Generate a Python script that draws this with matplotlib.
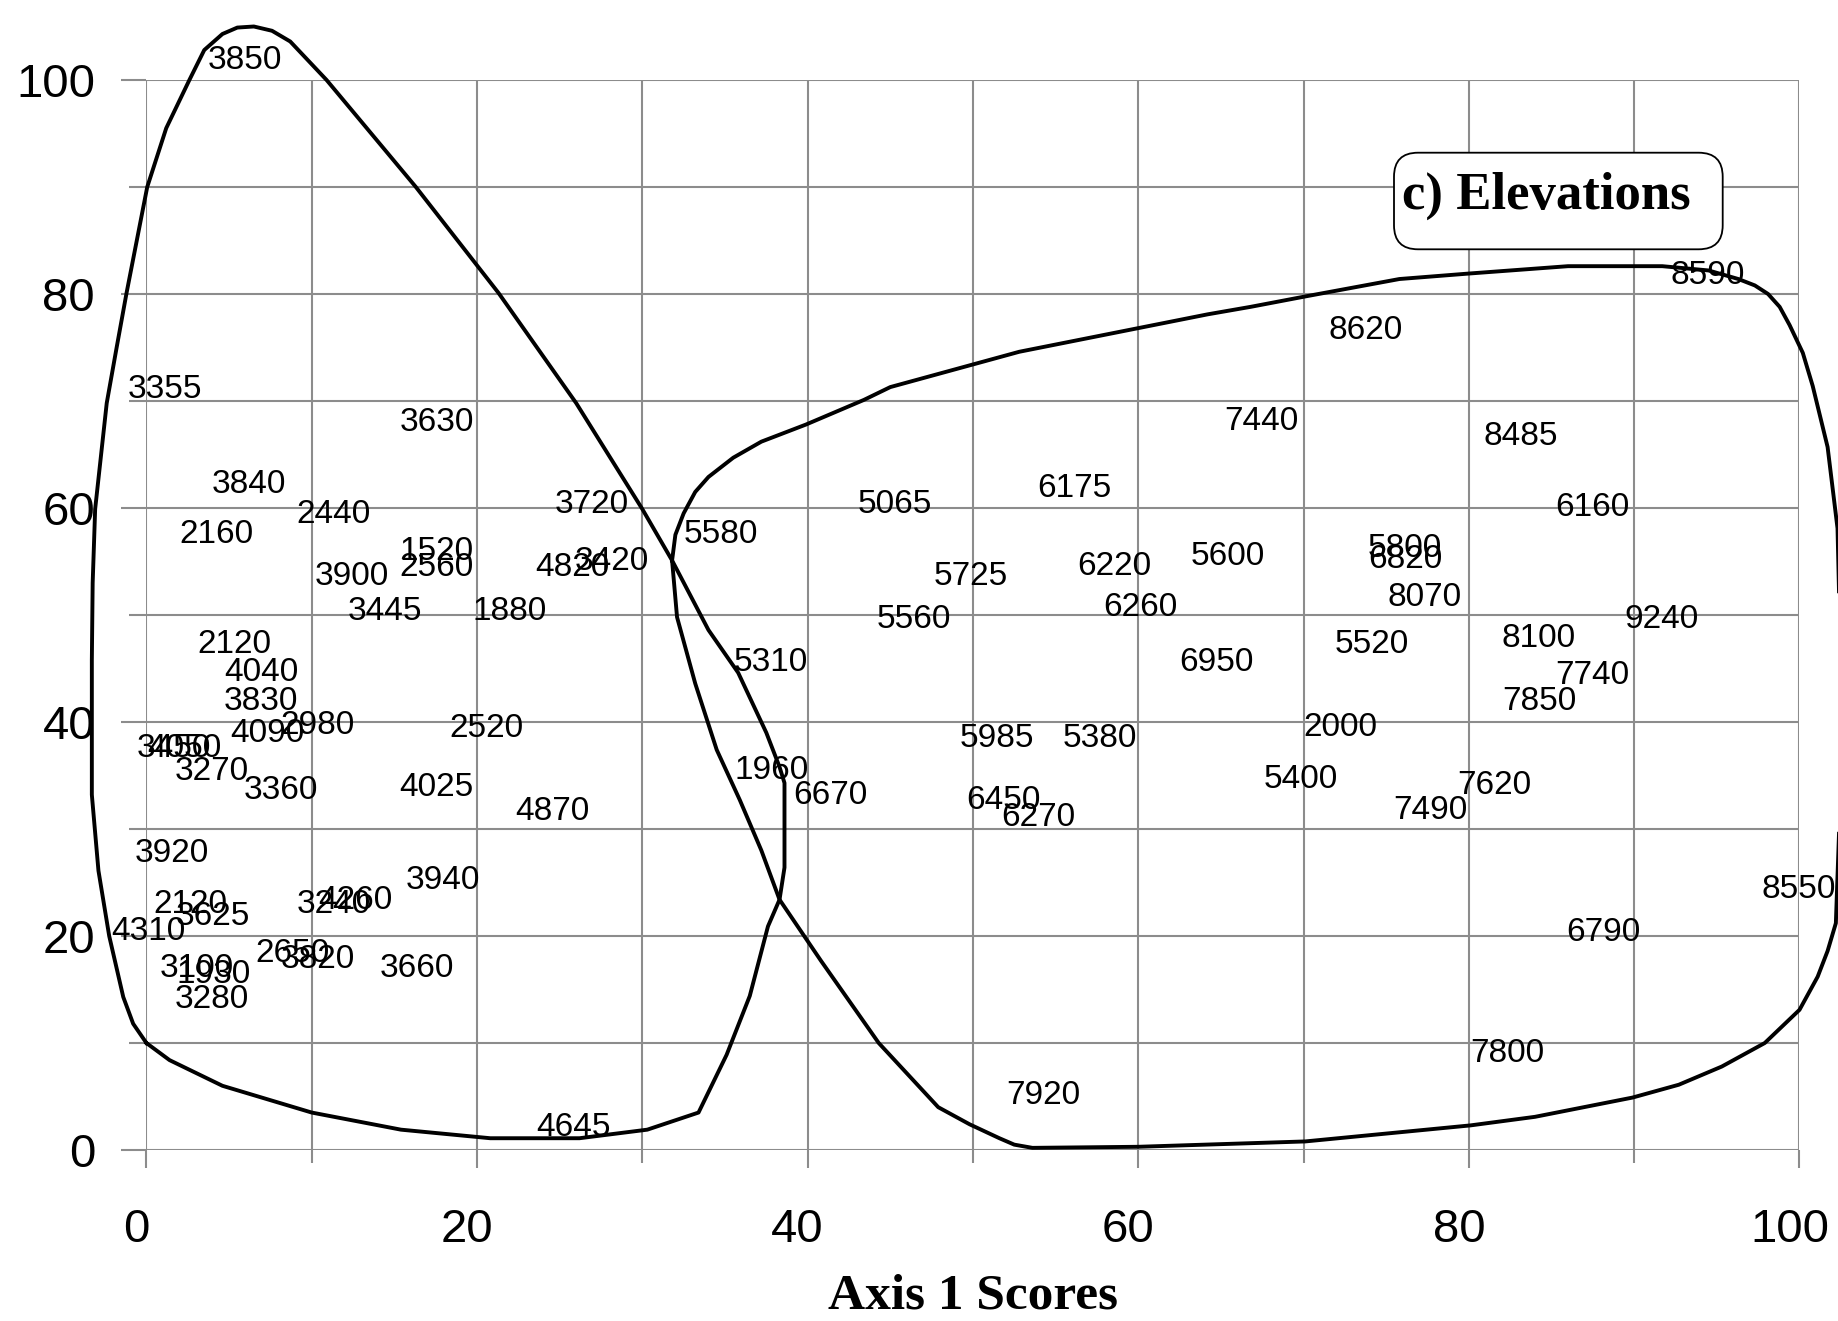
import matplotlib
matplotlib.use("Agg")
import matplotlib.pyplot as plt
import matplotlib.transforms as mtransforms
from matplotlib import font_manager
from matplotlib.patches import FancyBboxPatch
from matplotlib.ticker import MultipleLocator

# elevation labels and their ordination scores (axis 1, axis 2)
elev = ["3850", "3355", "3630", "3840", "2440", "2160", "3720", "3900", "1520", "2560",
        "4820", "3420", "3445", "1880", "2120", "4040", "3830", "4090", "2980", "2520",
        "3450", "4050", "3270", "3360", "4025", "4870", "3920", "3940", "2120", "3625",
        "4310", "3240", "4260", "2650", "3820", "3100", "1930", "3280", "3660", "4645",
        "5580", "5065", "6175", "7440", "5725", "6220", "5600", "5560", "6260", "5310",
        "6950", "5985", "5380", "1960", "6670", "6450", "6270", "5400", "2000", "7920",
        "8620", "8590", "8485", "6160", "5800", "6820", "8070", "5520", "8100", "9240",
        "7740", "7850", "7490", "7620", "8550", "6790", "7800"]
axis1 = [3.7, -1.16, 15.3, 3.97, 9.1, 2.0, 24.7, 10.2, 15.3, 15.3,
         23.5, 25.9, 12.2, 19.7, 3.1, 4.7, 4.7, 5.1, 8.1, 18.3,
         -0.6, 0.03, 1.7, 5.9, 15.3, 22.3, -0.7, 15.7, 0.4, 1.8,
         -2.1, 9.1, 10.4, 6.6, 8.1, 0.8, 1.85, 1.7, 14.1, 23.6,
         32.5, 43.0, 53.9, 65.2, 47.6, 56.3, 63.2, 44.2, 57.9, 35.5,
         62.5, 49.2, 55.4, 35.6, 39.1, 49.6, 51.7, 67.6, 70.0, 52.0,
         71.5, 92.2, 80.9, 85.2, 73.9, 73.9, 75.1, 71.9, 82.0, 89.4,
         85.2, 82.0, 75.4, 79.3, 97.7, 85.9, 80.1]
axis2 = [101.8, 71.1, 68.0, 62.2, 59.4, 57.5, 60.3, 53.6, 55.9, 54.4,
         54.4, 55.0, 50.3, 50.3, 47.2, 44.6, 41.9, 38.9, 39.7, 39.4,
         37.5, 37.5, 35.4, 33.6, 33.9, 31.6, 27.7, 25.2, 22.9, 21.8,
         20.4, 22.9, 23.3, 18.4, 17.8, 17.0, 16.4, 14.1, 17.0, 2.1,
         57.5, 60.3, 61.8, 68.1, 53.6, 54.5, 55.5, 49.6, 50.7, 45.6,
         45.6, 38.5, 38.5, 35.5, 33.1, 32.7, 31.1, 34.6, 39.5, 5.1,
         76.6, 81.7, 66.7, 60.0, 56.2, 55.2, 51.6, 47.2, 47.8, 49.6,
         44.3, 41.9, 31.7, 34.1, 24.3, 20.3, 9.0]

# hand drawn group outlines
left_x = [0, 1.4, 4.6, 10.0, 15.4, 20.8, 26.2, 30.3, 33.4, 35.1, 36.5, 37.6, 38.3, 38.6,
          38.6, 38.3, 37.5, 35.8, 34.0, 31.8, 30.0, 26.0, 21.3, 16.3, 10.9, 8.7, 7.6, 6.5,
          5.5, 4.6, 3.5, 2.6, 1.2, 0.05, -1.2, -1.8, -2.4, -3.1, -3.25, -3.3, -3.3, -2.9,
          -2.25, -1.4, -0.8, 0]
left_y = [10, 8.4, 6.0, 3.5, 1.9, 1.1, 1.1, 1.9, 3.5, 8.9, 14.4, 20.9, 23.4, 26.4,
          34.3, 35.8, 39.0, 44.6, 48.6, 55.1, 59.9, 69.8, 80.1, 90.0, 100.0, 103.6, 104.6, 105.0,
          104.9, 104.3, 102.8, 100.0, 95.5, 90.0, 80.1, 75.0, 69.8, 59.9, 53.0, 45.8, 33.2, 26.1,
          20.0, 14.3, 11.8, 10]
right_x = [31.8, 32.0, 32.5, 33.2, 34.0, 35.5, 37.2, 39.9, 43.4, 45.0, 52.8, 64.2, 66.8,
           70.2, 75.8, 79.9, 86.0, 91.7, 94.5, 96.3, 97.3, 98.1, 98.8, 99.4, 100.2, 100.8,
           101.7, 102.3, 102.5, 102.4, 102.2, 101.7, 101.1, 100.0, 97.9, 95.3, 92.7, 89.9,
           84.0, 80.1, 70.1, 60.0, 53.6, 52.5, 51.6, 49.8, 47.9, 44.3, 40.8, 38.3, 37.2,
           35.9, 34.5, 33.2, 32.1, 31.8]
right_y = [55.1, 57.5, 59.5, 61.5, 62.9, 64.7, 66.2, 67.8, 70.1, 71.3, 74.6, 78.1, 78.8,
           79.8, 81.4, 81.9, 82.6, 82.6, 82.2, 81.4, 80.8, 80.0, 78.8, 77.1, 74.5, 71.4,
           65.7, 58.1, 45.0, 30.0, 21.2, 18.6, 16.2, 13.1, 10.0, 7.8, 6.1, 4.9,
           3.1, 2.3, 0.8, 0.3, 0.2, 0.5, 1.1, 2.4, 4.0, 10.0, 17.7, 23.4, 28.0,
           32.7, 37.4, 43.6, 49.8, 55.1]

names = {f.name for f in font_manager.fontManager.ttflist}
tick_font = "Liberation Sans Narrow" if "Liberation Sans Narrow" in names else "Liberation Sans"
tick_size = 38 if tick_font == "Liberation Sans Narrow" else 34
grey = "#8c8c8c"

fig = plt.figure(figsize=(18.38, 13.21), dpi=100)
ax = fig.add_axes([0.07965, 0.12945, 0.8994, 0.80999])
ax.set_xlim(0, 100)
ax.set_ylim(0, 100)
for s in ax.spines.values():
    s.set_visible(False)

ax.xaxis.set_major_locator(MultipleLocator(20))
ax.xaxis.set_minor_locator(MultipleLocator(10))
ax.yaxis.set_major_locator(MultipleLocator(20))
ax.yaxis.set_minor_locator(MultipleLocator(10))
ax.grid(which="both", color=grey, linewidth=1.5)
ax.set_axisbelow(True)
ax.tick_params(axis="x", which="major", direction="out", length=13, width=1.5, color=grey, pad=29)
ax.tick_params(axis="x", which="minor", direction="out", length=9.5, width=1.5, color=grey)
ax.tick_params(axis="y", which="major", direction="out", length=18, width=1.5, color=grey, pad=19)
ax.tick_params(axis="y", which="minor", direction="out", length=12, width=1.5, color=grey)
for lab in ax.get_xticklabels() + ax.get_yticklabels():
    lab.set_fontfamily(tick_font)
    lab.set_fontsize(tick_size)
shift = mtransforms.ScaledTranslation(-0.1, 0, fig.dpi_scale_trans)
for lab in ax.get_xticklabels():
    lab.set_transform(lab.get_transform() + shift)

ax.plot(left_x, left_y, color="black", linewidth=2.8, clip_on=False, zorder=3,
        solid_joinstyle="round")
ax.plot(right_x, right_y, color="black", linewidth=2.8, clip_on=False, zorder=3,
        solid_joinstyle="round")

for name, a1, a2 in zip(elev, axis1, axis2):
    ax.text(a1, a2, name, ha="left", va="center", fontsize=24,
            family="Liberation Sans", clip_on=False, zorder=4)

box = FancyBboxPatch((1394, 1071.7), 328.7, 96.6,
                     boxstyle="round,pad=0,rounding_size=24",
                     transform=mtransforms.IdentityTransform(),
                     facecolor="white", edgecolor="black", linewidth=1.3, zorder=5)
fig.add_artist(box)
fig.text(1546.7 / 1838, 1 - 208.3 / 1321, "c) Elevations", ha="center", va="baseline",
         family="Liberation Serif", fontweight="bold", fontsize=38, zorder=6)

ax.set_xlabel("Axis 1 Scores", family="Liberation Serif", fontweight="bold",
              fontsize=37, va="baseline")
ax.xaxis.set_label_coords(0.5, -0.1486)

plt.savefig("out.png", dpi=100)
